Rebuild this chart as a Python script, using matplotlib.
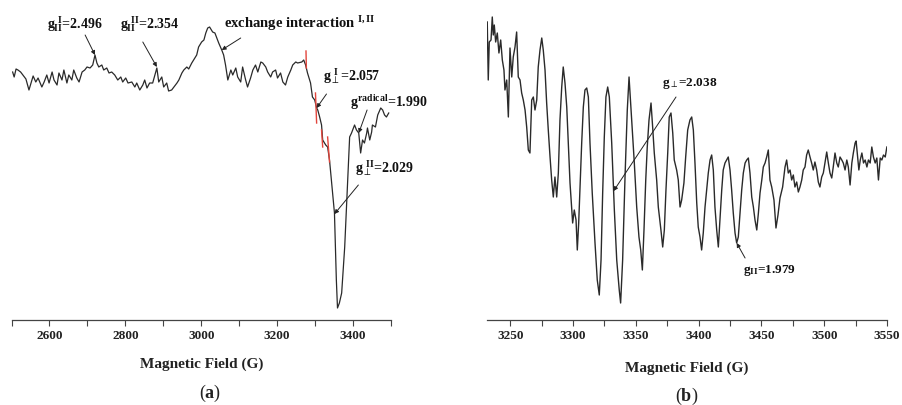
import numpy as np
import matplotlib
matplotlib.use("Agg")
from matplotlib import pyplot as plt
from matplotlib.ticker import MultipleLocator

# EPR spectrum (a): magnetic field (G) and signal (a.u.)
field_a = [2503, 2507, 2512, 2517, 2524, 2530, 2538, 2546, 2554, 2557,
           2564, 2570, 2580, 2586, 2593, 2599, 2607, 2612, 2620, 2625,
           2633, 2638, 2646, 2651, 2659, 2664, 2672, 2678, 2686, 2693,
           2699, 2707, 2714, 2720, 2725, 2730, 2738, 2743, 2751, 2757,
           2764, 2772, 2780, 2788, 2793, 2801, 2807, 2817, 2825, 2830,
           2838, 2846, 2851, 2857, 2864, 2872, 2878, 2883, 2888, 2896,
           2901, 2909, 2914, 2922, 2928, 2936, 2941, 2949, 2954, 2962,
           2967, 2975, 2980, 2988, 2993, 3001, 3007, 3012, 3017, 3022,
           3030, 3036, 3041, 3046, 3054, 3059, 3064, 3070, 3078, 3083,
           3091, 3096, 3104, 3109, 3117, 3122, 3130, 3136, 3143, 3149,
           3157, 3162, 3170, 3175, 3183, 3188, 3196, 3201, 3209, 3215,
           3222, 3228, 3236, 3241, 3249, 3254, 3265, 3270, 3275, 3280,
           3288, 3293, 3299, 3304, 3307, 3312, 3317, 3320, 3328, 3333,
           3338, 3343, 3351, 3356, 3359, 3364, 3370, 3378, 3386, 3391,
           3396, 3399, 3404, 3409, 3415, 3420, 3425, 3430, 3436, 3438,
           3444, 3449, 3451, 3459, 3465, 3473, 3478, 3483, 3488, 3494]
signal_a = [248, 243, 251, 250, 248, 245, 241, 230, 240, 244,
            238, 242, 233, 238, 245, 237, 248, 240, 235, 247,
            240, 250, 237, 245, 240, 250, 242, 238, 248, 250,
            253, 252, 255, 265, 257, 253, 255, 250, 252, 247,
            248, 245, 240, 243, 238, 242, 237, 238, 233, 237,
            230, 235, 240, 232, 237, 237, 245, 252, 238, 243,
            233, 237, 229, 230, 233, 237, 240, 247, 250, 253,
            251, 257, 260, 265, 273, 278, 280, 287, 292, 293,
            288, 287, 282, 277, 270, 265, 255, 240, 250, 245,
            252, 243, 238, 253, 240, 233, 242, 250, 255, 248,
            258, 257, 253, 248, 243, 248, 250, 242, 247, 238,
            235, 243, 250, 255, 258, 257, 258, 260, 255, 247,
            237, 223, 220, 212, 210, 203, 195, 180, 175, 173,
            160, 140, 107, 40, 12, 17, 27, 73, 140, 183,
            187, 190, 195, 190, 187, 167, 180, 177, 187, 192,
            180, 188, 195, 193, 205, 212, 210, 205, 203, 207]

# red fitted pieces on the g_perp shoulder
fit_field = [(3276, 3277), (3301, 3304), (3317, 3320), (3333, 3338)]
fit_signal = [(269, 252), (227, 197), (190, 173), (183, 158)]

# EPR spectrum (b)
field_b = [3231.7, 3232.5, 3233.3, 3234.7, 3235.7, 3236.5, 3237.3, 3238.4, 3239.7, 3241.0,
           3242.4, 3243.7, 3245.0, 3245.8, 3247.2, 3248.5, 3249.8, 3251.2, 3252.4, 3253.8,
           3255.1, 3256.4, 3257.8, 3259.1, 3260.4, 3261.8, 3263.1, 3264.4, 3265.7, 3267.1,
           3268.4, 3269.7, 3271.1, 3272.3, 3273.7, 3275.1, 3276.3, 3277.7, 3279.0, 3280.3,
           3281.7, 3283.0, 3284.3, 3285.6, 3287.0, 3288.3, 3289.6, 3291.0, 3292.2, 3293.6,
           3295.0, 3296.2, 3297.6, 3299.7, 3301.0, 3302.4, 3303.4, 3304.5, 3305.5, 3306.9,
           3308.2, 3309.5, 3310.9, 3312.2, 3313.5, 3315.3, 3317.5, 3319.3, 3320.9, 3322.3,
           3323.6, 3324.9, 3326.2, 3327.6, 3328.9, 3330.8, 3332.9, 3334.8, 3336.8, 3337.9,
           3339.5, 3341.4, 3343.2, 3344.6, 3346.7, 3348.8, 3350.7, 3352.5, 3353.9, 3355.2,
           3356.5, 3357.9, 3359.1, 3360.5, 3362.1, 3363.4, 3364.7, 3366.6, 3367.9, 3370.0,
           3371.4, 3372.7, 3374.0, 3375.4, 3376.6, 3378.0, 3379.4, 3380.6, 3382.5, 3383.8,
           3385.2, 3386.5, 3388.3, 3389.7, 3391.3, 3393.1, 3394.5, 3395.8, 3397.1, 3398.5,
           3399.7, 3401.1, 3402.4, 3403.7, 3405.1, 3406.4, 3407.7, 3409.1, 3410.4, 3411.7,
           3413.0, 3414.4, 3415.7, 3417.0, 3418.4, 3419.6, 3421.0, 3422.3, 3423.6, 3425.0,
           3426.3, 3427.6, 3429.0, 3430.3, 3431.6, 3433.0, 3434.3, 3435.6, 3437.0, 3438.3,
           3439.6, 3440.9, 3442.3, 3443.6, 3444.9, 3446.3, 3447.6, 3448.9, 3450.3, 3451.5,
           3452.9, 3454.2, 3455.5, 3456.8, 3458.2, 3460.0, 3461.6, 3463.2, 3464.8, 3466.9,
           3468.8, 3470.1, 3471.4, 3472.8, 3474.1, 3475.4, 3476.7, 3478.1, 3479.4, 3480.7,
           3482.1, 3483.3, 3484.7, 3486.0, 3487.3, 3488.7, 3490.0, 3491.3, 3492.6, 3494.0,
           3495.3, 3496.6, 3498.0, 3499.3, 3500.6, 3502.0, 3503.3, 3504.6, 3506.0, 3507.2,
           3508.6, 3510.0, 3511.2, 3512.6, 3514.0, 3515.2, 3516.6, 3518.0, 3519.2, 3520.6,
           3522.0, 3523.2, 3524.6, 3525.4, 3526.3, 3527.6, 3528.7, 3530.0, 3531.3, 3532.6,
           3534.0, 3535.2, 3536.6, 3537.9, 3539.2, 3540.6, 3541.9, 3543.2, 3544.6, 3545.9,
           3547.2, 3548.6, 3549.9]
signal_b = [298, 240, 278, 280, 303, 285, 295, 278, 287, 267,
            280, 260, 250, 230, 240, 203, 272, 243, 263, 273,
            288, 243, 240, 227, 220, 210, 193, 170, 167, 220,
            223, 210, 220, 253, 270, 282, 270, 250, 217, 190,
            163, 140, 123, 143, 123, 147, 200, 233, 253, 237,
            213, 177, 137, 97, 110, 100, 70, 97, 130, 177,
            213, 230, 232, 223, 177, 127, 77, 40, 25, 60,
            127, 183, 223, 233, 223, 177, 110, 60, 30, 17,
            60, 143, 210, 243, 200, 157, 113, 83, 70, 50,
            90, 140, 173, 200, 217, 193, 167, 140, 113, 90,
            73, 90, 130, 167, 203, 207, 187, 160, 150, 140,
            113, 120, 137, 163, 190, 200, 203, 190, 157, 117,
            93, 83, 70, 87, 113, 130, 147, 160, 165, 150,
            113, 90, 73, 100, 130, 150, 157, 160, 163, 150,
            130, 107, 87, 77, 83, 107, 130, 147, 157, 160,
            162, 147, 123, 113, 100, 90, 107, 127, 140, 153,
            157, 163, 170, 140, 133, 120, 92, 105, 122, 133,
            153, 160, 147, 150, 140, 145, 133, 138, 128, 133,
            140, 150, 153, 165, 170, 163, 157, 150, 158, 150,
            138, 133, 143, 147, 157, 168, 157, 147, 142, 153,
            167, 157, 153, 163, 160, 157, 150, 160, 153, 135,
            157, 167, 177, 179, 167, 150, 160, 167, 157, 160,
            153, 160, 157, 173, 163, 157, 162, 140, 162, 160,
            165, 163, 173]

plt.rcParams['font.family'] = ['Liberation Serif', 'DejaVu Serif']
plt.rcParams['mathtext.fontset'] = 'custom'
plt.rcParams['mathtext.rm'] = 'Liberation Serif:bold'
plt.rcParams['mathtext.it'] = 'Liberation Serif:bold'
plt.rcParams['mathtext.bf'] = 'Liberation Serif:bold'
plt.rcParams['mathtext.fallback'] = 'stix'

W, H = 902, 405
fig = plt.figure(figsize=(W / 100, H / 100), dpi=100)

line_c = '#2a2a2a'


def style_axis(ax, major, minor):
    for s in ['left', 'right', 'top']:
        ax.spines[s].set_visible(False)
    ax.spines['bottom'].set_color('#444444')
    ax.spines['bottom'].set_linewidth(0.9)
    ax.set_yticks([])
    ax.xaxis.set_major_locator(MultipleLocator(major))
    ax.xaxis.set_minor_locator(MultipleLocator(minor))
    ax.tick_params(axis='x', which='both', direction='out', length=4,
                   width=0.8, color='#444444', pad=3)
    for lab in ax.get_xticklabels():
        lab.set_fontweight('bold')
        lab.set_fontsize(9.5)
        lab.set_color('#222222')


def note(ax, text, xy, xytext, tip, size=10):
    ax.text(xytext[0], xytext[1], text, fontsize=size, fontweight='bold',
            ha='left', va='baseline', color='#111111')
    ax.annotate('', xy=xy, xytext=tip,
                arrowprops=dict(arrowstyle='-|>', color='#222222', lw=0.7,
                                mutation_scale=6, shrinkA=0, shrinkB=0))


# ---- panel (a)
ax = fig.add_axes([11.5 / W, 85 / H, 379.5 / W, 305 / H])
ax.plot(field_a, signal_a, color=line_c, lw=0.9)
for fx, fy in zip(fit_field, fit_signal):
    ax.plot(fx, fy, color='#e2453c', lw=1.0)
ax.set_xlim(2500, 3500)
ax.set_ylim(0, 305)
style_axis(ax, 200, 100)

note(ax, r'$g_{\mathrm{II}}^{\ \mathrm{I}}$=2.496', (2720, 265), (2593, 291), (2694, 285))
note(ax, r'$g_{\mathrm{II}}^{\ \mathrm{II}}$=2.354', (2883, 253), (2785, 291), (2846, 278))
note(ax, r'exchange interaction $^{\mathrm{I,II}}$', (3054, 270), (3059, 292), (3104, 282),
     size=10.5)
note(ax, r'$g_{\perp}^{\ \mathrm{I}}$=2.057', (3304, 212), (3320, 240), (3330, 226))
note(ax, r'$g^{\mathrm{radical}}$=1.990', (3415, 187), (3391, 213), (3437, 210))
note(ax, r'$g_{\perp}^{\ \mathrm{II}}$=2.029', (3351, 106), (3404, 147), (3414, 135))

fig.text(201.5 / W, 1 - 364 / H, 'Magnetic Field (G)', fontsize=11,
         fontweight='bold', ha='center', va='center', color='#222222')
fig.text(210 / W, 1 - 393 / H, r'($\mathbf{a}$)', fontsize=13,
         ha='center', va='center', color='#222222')

# ---- panel (b)
ax = fig.add_axes([487 / W, 85 / H, 400 / W, 305 / H])
ax.plot(field_b, signal_b, color=line_c, lw=1.0)
ax.set_xlim(3231.5, 3550)
ax.set_ylim(0, 305)
style_axis(ax, 50, 25)

note(ax, r'$g_{\perp}$=2.038', (3332.3, 129), (3370.8, 234), (3382, 223), size=9.5)
note(ax, r'$g_{\mathrm{II}}$=1.979', (3430.3, 77), (3435.3, 47), (3437, 62), size=9.5)

fig.text(687 / W, 1 - 368 / H, 'Magnetic Field (G)', fontsize=11,
         fontweight='bold', ha='center', va='center', color='#222222')
fig.text(687 / W, 1 - 396 / H, r'($\mathbf{b}$)', fontsize=13,
         ha='center', va='center', color='#222222')

fig.savefig('out.png', dpi=100)
